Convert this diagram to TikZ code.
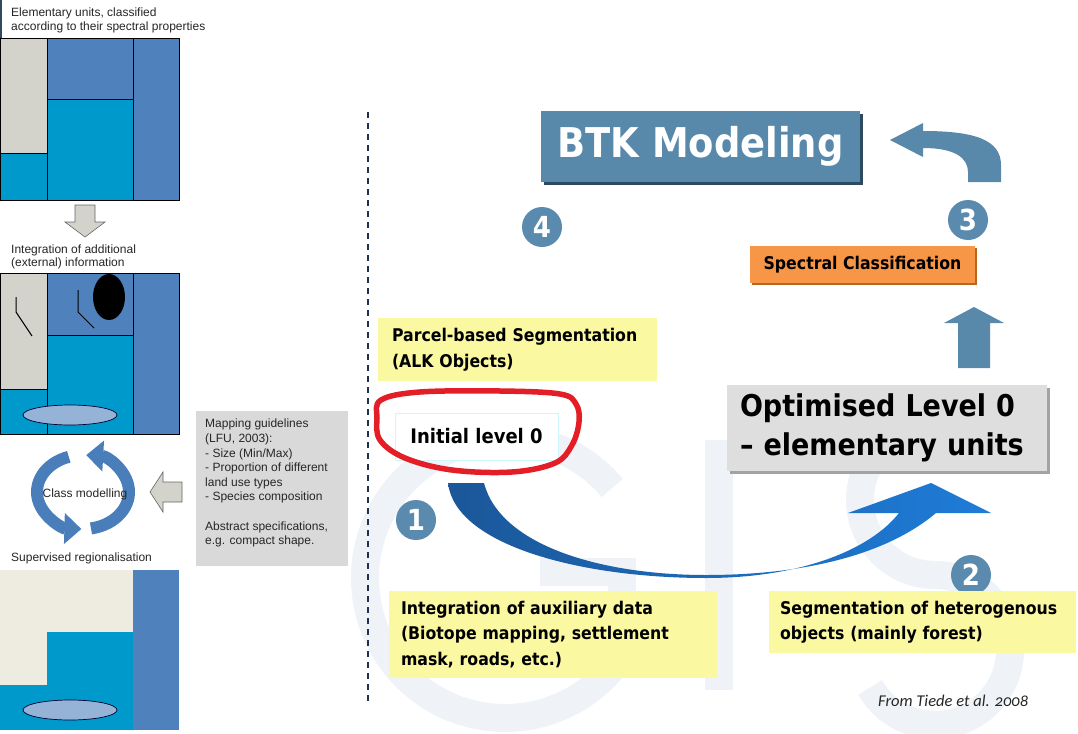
\documentclass[tikz,border=0pt]{standalone}
\usepackage{fontspec}
\setmainfont{Liberation Sans}
\newfontfamily\tah{DejaVu Sans}[FakeStretch=0.9]
\newfontfamily\calfont{Carlito}[Numbers=OldStyle]
\usetikzlibrary{arrows.meta}
\definecolor{pgrey}{HTML}{D3D3CB}
\definecolor{midb}{HTML}{4F81BD}
\definecolor{cyanb}{HTML}{0099CC}
\definecolor{beige}{HTML}{EEECE1}
\definecolor{ellb}{HTML}{95B3D7}
\definecolor{steel}{HTML}{5889AB}
\definecolor{steeldark}{HTML}{2E4A5E}
\definecolor{numc}{HTML}{5A8AAE}
\definecolor{orng}{HTML}{F79646}
\definecolor{orngdark}{HTML}{B9661F}
\definecolor{yel}{HTML}{FBF8A2}
\definecolor{gbox}{HTML}{D9D9D9}
\definecolor{optbox}{HTML}{DEDEDE}
\definecolor{optshadow}{HTML}{A3A3A3}
\definecolor{redloop}{HTML}{E41E26}
\definecolor{dashc}{HTML}{1F3050}
\definecolor{wm}{HTML}{EFF3F8}
\definecolor{blueA}{HTML}{1B5799}
\definecolor{blueB}{HTML}{1E7CD8}
\definecolor{ringc}{HTML}{4A7EBB}
\definecolor{txt}{HTML}{262626}
\tikzset{
  lbl/.style={font=\fontsize{12}{13.6}\selectfont, text=txt, inner sep=0, anchor=north west, align=left},
  panelline/.style={draw=black, line width=0.8},
  ybox/.style={fill=yel, inner ysep=0, align=left, font=\tah\bfseries\fontsize{17.5}{25.5}\selectfont},
  numc/.style={circle, fill=numc, text=white, minimum size=40, inner sep=0, font=\tah\bfseries\fontsize{29}{29}\selectfont},
  wmstroke/.style={draw=wm, line width=28},
  ringarrow/.style={draw=ringc, line width=12, -{Triangle[width=30pt,length=17pt]}},
}
\begin{document}
\begin{tikzpicture}[x=1pt,y=-1pt]
\useasboundingbox (0,0) rectangle (1078,733);
\fill[white] (0,0) rectangle (1078,733);

% ---------- watermark "GIS" ----------
\draw[wmstroke] (505,578) ++(-40:140) arc[start angle=-40, end angle=-340, radius=140];
\draw[wmstroke] (540,572) -- (636,572);
\draw[wmstroke] (622,572) -- (622,640);
\draw[wmstroke] (719,440) -- (719,690);
\draw[wmstroke] (935,500) ++(-30:75) arc[start angle=-30, end angle=-270, radius=75];
\draw[wmstroke] (935,650) ++(-90:75) arc[start angle=-90, end angle=150, radius=75];

% ---------- left panel ----------
\draw[steeldark, line width=2] (1,0) -- (1,38);
\node[lbl] (cap1) at (11,8) {Elementary units, classified\\according to their spectral properties};

% panel 1
\fill[pgrey] (0,38) rectangle (47,153);
\fill[cyanb] (0,153) rectangle (47,200);
\fill[midb] (47,38) rectangle (133,99);
\fill[cyanb] (47,99) rectangle (133,200);
\fill[midb] (133,38) rectangle (179,200);
\draw[panelline] (0,38) rectangle (179,200);
\draw[panelline] (47,38) -- (47,200) (133,38) -- (133,200) (0,153) -- (47,153) (47,99) -- (133,99);

% down arrow
\draw[fill=pgrey, draw=black!60, line width=0.6] (75,205) -- (95,205) -- (95,222) -- (105,222) -- (85,237) -- (65,222) -- (75,222) -- cycle;

\node[lbl] (cap2) at (11,244.5) {Integration of additional\\(external) information};

% panel 2
\fill[pgrey] (0,273) rectangle (47,389);
\fill[cyanb] (0,389) rectangle (47,434);
\fill[midb] (47,273) rectangle (133,335);
\fill[cyanb] (47,335) rectangle (133,434);
\fill[midb] (133,273) rectangle (179,434);
\draw[panelline] (0,273) rectangle (179,434);
\draw[panelline] (47,273) -- (47,434) (133,273) -- (133,434) (0,389) -- (47,389) (47,335) -- (133,335);
\fill[black] (109,297) ellipse[x radius=16, y radius=23];
\draw[black, line width=1] (16,297) -- (16,312) -- (32,336);
\draw[black, line width=1] (78,290) -- (78,312) -- (94,328);
\draw[fill=ellb, draw=black!80!blue, line width=0.7] (70,415) ellipse[x radius=47, y radius=10];

% class modelling cycle
\draw[ringarrow] (83,492) ++(80:46 and 37) arc[start angle=80, end angle=-86, x radius=46, y radius=37];
\draw[ringarrow] (83,492) ++(-108:46 and 37) arc[start angle=-108, end angle=-268, x radius=46, y radius=37];
\node[font=\fontsize{12}{12}\selectfont, text=txt, inner sep=0] (cm) at (85,494) {Class modelling};

% left arrow
\draw[fill=pgrey, draw=black!60, line width=0.6] (182,482) -- (163,482) -- (163,472) -- (150,492) -- (163,512) -- (163,502) -- (182,502) -- cycle;

% grey text box
\fill[gbox] (196,411) rectangle (348,566);
\node[lbl, font=\fontsize{12}{14.6}\selectfont] (guide) at (205,419) {Mapping guidelines\\(LFU, 2003):\\- Size (Min/Max)\\- Proportion of different\\land use types\\- Species composition\\[14.6pt]Abstract specifications,\\e.g. compact shape.};

\node[lbl] (cap3) at (11,553) {Supervised regionalisation};

% panel 3
\fill[beige] (0,570) rectangle (133,632);
\fill[beige] (0,632) rectangle (47,685);
\fill[cyanb] (47,632) rectangle (133,730);
\fill[cyanb] (0,685) rectangle (47,730);
\fill[midb] (133,570) rectangle (179,730);
\draw[fill=ellb, draw=black!80!blue, line width=0.7] (70,710) ellipse[x radius=47, y radius=10];

% dashed separator
\draw[dashc, line width=1.6, dash pattern=on 6pt off 5pt] (368,112) -- (368,702);

% ---------- right panel ----------
% BTK Modeling
\fill[steeldark] (544,114) rectangle (863,185);
\node[fill=steel, minimum width=319, minimum height=71, inner sep=0, text=white,
      font=\tah\bfseries\fontsize{41}{41}\selectfont] (btk) at (700.5,146.5) {BTK Modeling};

% curved arrow top right
\fill[steel] (968,182) -- (1001,182) -- (1001,165) .. controls (1001,140) and (975,131) .. (923,131)
  -- (923,123) -- (890,140) -- (923,157) -- (923,148) .. controls (955,148) and (968,158) .. (968,172) -- cycle;

\node[numc] (n4) at (542,227) {4};
\node[numc] (n3) at (968,220) {3};

% Spectral classification
\fill[orngdark] (752,248) rectangle (977,285);
\node[fill=orng, minimum width=225, minimum height=37, inner sep=0, text=black,
      font=\tah\bfseries\fontsize{17.5}{17.5}\selectfont] (spec) at (862.5,264.5) {Spectral Classification};

% up arrow
\fill[steel] (958,368) -- (990,368) -- (990,323) -- (1004,323) -- (974,307) -- (944,323) -- (958,323) -- cycle;

% Parcel-based segmentation
\node[ybox, minimum width=279, minimum height=63, inner xsep=14, text width=251] (parcel) at (517.5,349.5)
  {Parcel-based Segmentation\\(ALK Objects)};

% Optimised level 0
\fill[optshadow] (730,388) rectangle (1050,474);
\node[fill=optbox, minimum width=320, minimum height=86, inner xsep=13, inner ysep=0, text width=294, align=left,
      font=\tah\bfseries\fontsize{30}{39}\selectfont] (opt) at (887,428) {Optimised Level 0\\– elementary units};

% Initial level 0
\node[fill=white, draw=blue!15!cyan!20, line width=0.6, minimum width=163, minimum height=47, inner sep=0,
      font=\tah\bfseries\fontsize{20}{20}\selectfont] (init) at (476.5,436.5) {Initial level 0};

% blue curved arrow
\shade[left color=blueA, right color=blueB]
  (448,483) .. controls (455,545) and (580,578) .. (706,578)
  .. controls (800,578) and (870,550) .. (899,513)
  -- (848,513) -- (931,483) -- (991,513) -- (936,513)
  .. controls (880,560) and (790,575) .. (706,575)
  .. controls (600,575) and (500,545) .. (484,483) -- cycle;

% red hand-drawn loop
\draw[redloop, line width=5.5, line cap=round, line join=round]
  plot[smooth cycle, tension=0.6] coordinates {(381,400) (420,392) (500,391) (560,394) (576,404) (579,422) (572,445) (555,463) (512,472) (452,470) (405,458) (380,440) (377,418)};

\node[numc] (n1) at (416,520) {1};
\node[numc] (n2) at (971,575) {2};

% bottom yellow boxes
\node[ybox, minimum width=328, minimum height=87, inner xsep=12, text width=304] (integ) at (553,634.5)
  {Integration of auxiliary data\\(Biotope mapping, settlement\\mask, roads, etc.)};
\node[ybox, minimum width=307, minimum height=62, inner xsep=11, text width=285] (segm) at (922.5,622)
  {Segmentation of heterogenous\\objects (mainly forest)};

\node[font=\calfont\itshape\fontsize{16.5}{16.5}\selectfont, text=txt, inner sep=0, anchor=base west] (src) at (878,706) {From Tiede et al. 2008};
\end{tikzpicture}
\end{document}
